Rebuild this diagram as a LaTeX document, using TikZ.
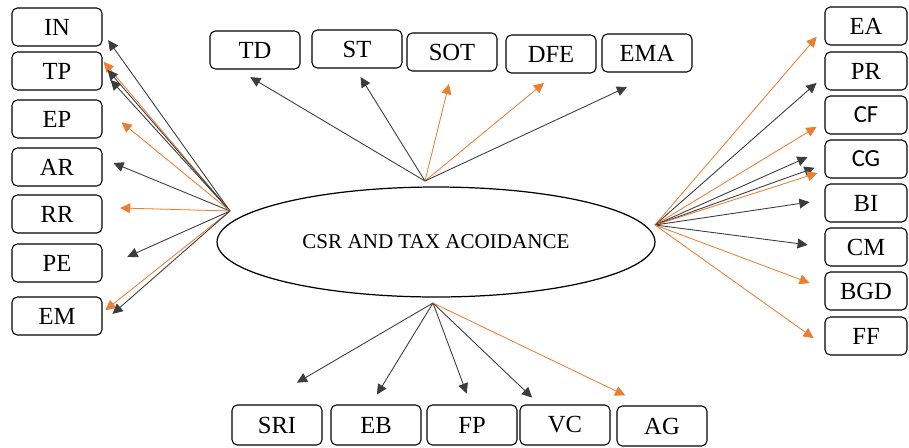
\documentclass[tikz,border=0pt]{standalone}
\usepackage{tikz}
\usetikzlibrary{arrows.meta, shapes.geometric}
\usepackage{fontspec}
\setmainfont{Liberation Serif}
\newfontfamily\calfont{Carlito}
\usepackage{xcolor}
\definecolor{arrorange}{RGB}{237,125,49}
\definecolor{arrgray}{RGB}{60,60,60}
\tikzset{%
	every factor/.style={
		draw,
		rounded corners=3pt,
		line width=0.6pt,
		minimum width=1.8cm,
		minimum height=0.76cm,
		inner sep=0pt,
		font=\fontsize{14}{16}\selectfont
	},
	blackarrow/.style={
		-{Triangle[length=5.8pt,width=5.6pt]},
		draw=arrgray,
		line width=0.5pt
	},
	orangearrow/.style={
		-{Triangle[length=5.8pt,width=5.6pt]},
		draw=arrorange,
		fill=arrorange,
		line width=0.45pt
	},
}

\begin{document}
\begin{tikzpicture}[x=0.02cm, y=-0.02cm]
			\useasboundingbox (0,0) rectangle (909,447);
			
			% Draw the central ellipse
			\node[ellipse, draw, line width=0.7pt, minimum width=8.76cm, minimum height=2.2cm,
				font=\fontsize{12}{14}\selectfont] (csr) at (436,242) {CSR AND TAX ACOIDANCE};
			\coordinate (hubL) at (230,211);
			\coordinate (hubT) at (425,181);
			\coordinate (hubB) at (433,303);
			\coordinate (hubR) at (655,225);
			
			% Draw the left boxes
			\node[every factor] (IN) at (57,27) {IN};
			\node[every factor] (TP) at (57,71) {TP};
			\node[every factor] (EP) at (57,119) {EP};
			\node[every factor] (AR) at (57,167) {AR};
			\node[every factor] (RR) at (57,214) {RR};
			\node[every factor] (PE) at (57,263) {PE};
			\node[every factor] (EM) at (57,316) {EM};
			
			% Draw the top boxes
			\node[every factor] (TD) at (255,50) {TD};
			\node[every factor] (ST) at (357,49) {ST};
			\node[every factor] (SOT) at (452,52) {SOT};
			\node[every factor] (DFE) at (551,54) {DFE};
			\node[every factor] (EMA) at (647,53) {EMA};
			
			% Draw the bottom boxes
			\node[every factor, minimum height=0.8cm] (SRI) at (277,425) {SRI};
			\node[every factor, minimum height=0.8cm] (EB) at (376,425) {EB};
			\node[every factor, minimum height=0.8cm] (FP) at (472,425) {FP};
			\node[every factor, minimum height=0.8cm] (VC) at (565,425) {VC};
			\node[every factor, minimum height=0.8cm] (AG) at (662,426) {AG};
			
			% Draw the right boxes
			\node[every factor, minimum width=1.64cm] (EA) at (866,26) {EA};
			\node[every factor, minimum width=1.64cm] (PR) at (866,71) {PR};
			\node[every factor, minimum width=1.64cm] (CF) at (866,115) {\calfont CF};
			\node[every factor, minimum width=1.64cm] (CG) at (866,159) {\calfont CG};
			\node[every factor, minimum width=1.64cm] (BI) at (866,203) {BI};
			\node[every factor, minimum width=1.64cm] (CM) at (866,247) {CM};
			\node[every factor, minimum width=1.64cm] (BGD) at (866,291) {BGD};
			\node[every factor, minimum width=1.64cm] (FF) at (866,336) {FF};
			
			% Draw the left arrows
			\draw[blackarrow, shorten >=5.5pt] (hubL) -- ([yshift=-3pt]IN.east);
			\draw[orangearrow, shorten >=1pt] (hubL) -- ([yshift=6pt]TP.east);
			\draw[blackarrow, shorten >=4.4pt] (hubL) -- ([yshift=4pt]TP.east);
			\draw[blackarrow, shorten >=6.8pt] (hubL) -- (TP.east);
			\draw[orangearrow, shorten >=14pt] (hubL) -- ([yshift=7pt]EP.east);
			\draw[blackarrow, shorten >=6.7pt] (hubL) -- ([yshift=4.8pt]AR.east);
			\draw[orangearrow, shorten >=10pt] (hubL) -- ([yshift=3.7pt]RR.east);
			\draw[blackarrow, shorten >=15.5pt] (hubL) -- ([yshift=-2.8pt]PE.east);
			\draw[orangearrow, shorten >=2pt] (hubL) -- ([yshift=2pt]EM.east);
			\draw[blackarrow, shorten >=7.5pt] (hubL) -- ([yshift=-3.8pt]EM.east);
			
			% Draw the top arrows
			\draw[blackarrow, shorten >=8.5pt] (hubT) -- ([xshift=-10pt]TD.south);
			\draw[blackarrow, shorten >=5.7pt] (hubT) -- ([xshift=-1pt]ST.south);
			\draw[orangearrow, shorten >=7.3pt] (hubT) -- (SOT.south);
			\draw[orangearrow, shorten >=8.4pt] (hubT) -- ([xshift=2.5pt]DFE.south);
			\draw[blackarrow, shorten >=19.4pt] (hubT) -- ([xshift=6.2pt]EMA.south);
			
			% Draw the bottom arrows
			\draw[blackarrow, shorten >=24.6pt] (hubB) -- ([xshift=-9.9pt]SRI.north);
			\draw[blackarrow, shorten >=6.6pt] (hubB) -- ([xshift=-2.9pt]EB.north);
			\draw[blackarrow, shorten >=6.6pt] (hubB) -- ([xshift=-0.7pt]FP.north);
			\draw[blackarrow, shorten >=5.7pt] (hubB) -- ([xshift=-14.6pt]VC.north);
			\draw[orangearrow, shorten >=13.2pt] (hubB) -- ([xshift=-9pt]AG.north);
			
			% Draw the right arrows
			\draw[orangearrow, shorten >=6.8pt] (hubR) -- ([yshift=-1pt]EA.west);
			\draw[blackarrow, shorten >=6pt] (hubR) -- ([yshift=-2.8pt]PR.west);
			\draw[orangearrow, shorten >=5.3pt] (hubR) -- ([yshift=-4pt]CF.west);
			\draw[blackarrow, shorten >=10.6pt] (hubR) -- ([yshift=5.4pt]CG.west);
			\draw[blackarrow, shorten >=6pt] (hubR) -- ([yshift=-3pt]CG.west);
			\draw[orangearrow, shorten >=4.2pt] (hubR) -- ([yshift=-6.7pt]CG.west);
			\draw[blackarrow, shorten >=8.6pt] (hubR) -- ([yshift=1.8pt]BI.west);
			\draw[blackarrow, shorten >=9.6pt] (hubR) -- (CM.west);
			\draw[orangearrow, shorten >=9pt] (hubR) -- ([yshift=1.4pt]BGD.west);
			\draw[orangearrow, shorten >=7.6pt] (hubR) -- ([yshift=-5.6pt]FF.west);
			
		\end{tikzpicture}
\end{document}
